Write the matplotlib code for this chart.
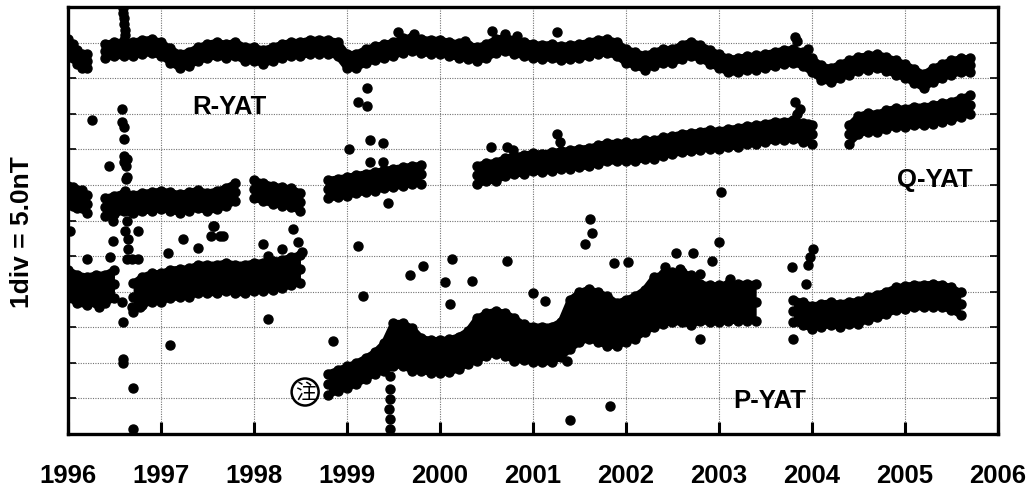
import numpy as np
import matplotlib
matplotlib.use('Agg')
import matplotlib.pyplot as plt

# values in nT (1 div = 5.0 nT), time in decimal years
# each band: start year, step, centre values, half-width of the daily scatter
r1_start, r1_step = 1996.0, 0.05
r1 = [54.5, 53.8, 53.0, 52.4, 52.4]
r2_start, r2_step = 1996.4, 0.1
r2 = [53.8, 54.1, 54.1, 54.1, 54.4, 54.5,
      54.1, 53.2, 52.4, 52.7, 53.4, 53.8, 54.1, 53.8, 54.1, 53.4,
      53.4, 53.0, 53.4, 53.8, 54.1, 54.1, 54.4, 54.4, 54.4, 54.1,
      52.4, 52.4, 53.1, 53.5, 53.8, 54.1, 54.6, 54.8, 54.5, 54.4,
      54.4, 54.1, 53.9, 53.7, 53.4, 53.8, 54.5, 54.8, 54.4, 54.1,
      53.8, 53.7, 53.8, 53.5, 53.7, 53.8, 54.1, 54.4, 54.5, 54.1,
      53.1, 52.7, 52.2, 52.7, 53.1, 53.1, 53.7, 54.1, 53.7, 53.0,
      52.4, 51.8, 51.8, 52.1, 52.2, 52.4, 52.7, 53.0, 53.1, 52.7,
      51.8, 50.8, 50.4, 51.0, 51.5, 52.0, 52.2, 52.4, 52.0, 51.5,
      51.0, 50.3, 49.6, 50.4, 51.0, 51.5, 51.8, 51.8]
r_spread = 1.0

q1_start, q1_step = 1996.0, 0.05
q1 = [33.6, 33.4, 33.0, 33.0, 32.3]
q2_start, q2_step = 1996.4, 0.1
q2 = [31.9, 32.2, 32.6, 32.3, 32.6, 32.7, 32.9, 32.7, 32.4, 32.7,
      33.0, 32.6, 32.9, 33.3, 34.0]
q3_start, q3_step = 1998.0, 0.1
q3 = [34.4, 34.0, 33.6, 33.4, 33.2, 32.6]
q4_start, q4_step = 1998.8, 0.1
q4 = [34.4, 34.6, 34.8, 35.1, 35.3, 35.5, 35.8, 36.0, 36.2, 36.4, 36.5]
q5_start, q5_step = 2000.4, 0.1
q5 = [36.4, 36.8, 36.9, 37.5, 37.8, 37.9,
      38.2, 38.1, 38.3, 38.5, 38.6, 38.8, 38.9, 39.3, 39.6, 39.6,
      39.7, 39.6, 40.0, 40.0, 40.4, 40.6, 40.9, 41.0, 41.2, 41.4,
      41.3, 41.6, 41.7, 42.0, 42.1, 42.3, 42.6, 42.6, 42.8, 42.4,
      42.1]
q6_start, q6_step = 2004.4, 0.1
q6 = [42.1, 43.4, 43.8, 43.7, 44.2, 44.5, 44.4, 44.7, 44.7, 44.9,
      45.2, 45.4, 45.9, 46.3]
q_spread = 1.3

p1_start, p1_step = 1996.0, 0.1
p1 = [21.1, 20.4, 20.1, 20.4, 20.4, 21.1]
p2_start, p2_step = 1996.7, 0.1
p2 = [19.2, 20.1, 20.6, 20.6, 21.1, 21.2, 21.3, 21.8, 21.8, 21.8,
      22.1, 21.8, 21.8, 22.1, 22.1, 22.3, 22.5, 22.9, 23.2]
p_old_spread = 2.0
p3_start, p3_step = 1998.8, 0.1
p3 = [7.0, 7.5,
      8.0, 8.5, 9.2, 10.0, 10.8, 12.6, 12.6, 11.9, 11.2, 10.9,
      10.9, 11.0, 11.4, 12.2, 13.3, 14.0, 14.3, 14.0, 13.3, 12.9,
      12.6, 12.6, 12.6, 13.3, 15.4, 16.4, 16.9, 16.4, 15.9, 15.4,
      15.9, 16.4, 17.3, 18.5, 19.0, 19.2, 19.2, 18.8, 18.5, 18.3,
      18.3, 18.5, 18.5, 18.5, 18.5]
p3_spread = [1.5] * 6 + [2.0] + [3.0] * 3 + [2.3] * 6 + [3.0] * 5 + \
            [2.5] * 5 + [3.5] * 5 + [3.0] * 4 + [3.5] * 5 + [2.6] * 7
p4_start, p4_step = 2003.8, 0.1
p4 = [17.3, 16.9, 16.4, 16.7, 16.9, 16.7, 17.0, 17.1, 17.6, 18.0,
      18.4, 19.0, 19.2, 19.4, 19.4, 19.5, 19.4, 19.0, 18.3]
p4_spread = 1.6

# single days off the bands
out_year = [1996.59, 1996.59, 1996.60, 1996.60, 1996.61, 1996.61, 1996.60,
            1996.58, 1996.58, 1996.60, 1996.60, 1996.60, 1996.60, 1996.62, 1996.63, 1996.62, 1996.63, 1996.61,
            1996.67, 1996.63, 1996.61, 1996.65, 1996.65, 1996.63, 1996.69, 1996.75, 1996.48, 1996.48, 1996.75,
            1996.58, 1996.59, 1996.69, 1996.77, 1996.33, 1996.59, 1996.59, 1996.70, 1996.70,
            1996.26, 1996.44, 1996.02, 1996.20, 1996.45,
            1997.08, 1997.24, 1997.40, 1997.56, 1997.57, 1997.63, 1997.67, 1997.54, 1997.10, 1998.15,
            1998.42, 1998.47, 1998.52, 1998.10, 1998.15, 1998.30,
            1999.22, 1999.12, 1999.22, 1999.25, 1999.39, 1999.02, 1999.44,
            1999.12, 1999.17, 1998.85,
            1999.46, 1999.46, 1999.46, 1999.45, 1999.46, 1999.46,
            2000.13, 1999.82, 1999.68, 2000.05, 2000.11, 2000.34, 2000.72, 2001.00, 2001.13,
            1999.55, 1999.72, 2000.27, 2001.26, 2000.56, 2000.70, 2000.83, 2003.82, 2003.84, 2003.96,
            2003.82, 2003.87, 2003.84, 2003.96,
            1999.25, 1999.39, 2000.55, 2000.72, 2000.78, 2001.26, 2001.29,
            2001.61, 2001.63, 2001.56, 2001.87, 2002.02, 2003.02, 2003.00, 2002.54, 2002.72,
            2001.83, 2001.40, 2002.80, 2001.37, 2003.78,
            2002.42, 2002.58, 2002.80, 2002.92, 2003.12, 2003.10,
            2003.80, 2004.01, 2003.98, 2003.96, 2003.94]
out_val = [59.9, 59.2, 58.4, 57.6, 56.8, 56.0, 55.3,
           45.6, 43.8, 43.1, 41.4, 39.0, 38.2, 35.8, 38.6, 37.6, 36.1, 34.1,
           31.3, 29.9, 28.5, 27.4, 26.0, 24.6, 24.6, 24.6, 29.9, 27.1, 28.5,
           18.5, 15.7, 17.8, 17.8, 17.8, 10.5, 10.0, 6.5, 0.7,
           44.1, 37.6, 28.5, 24.6, 24.9,
           25.4, 27.4, 26.1, 29.2, 29.2, 27.8, 27.8, 27.8, 12.5, 16.2,
           28.8, 27.0, 25.6, 26.7, 25.0, 26.0,
           48.6, 46.6, 46.1, 41.3, 40.9, 40.0, 32.4,
           26.4, 19.4, 13.1,
           8.1, 6.3, 4.9, 3.5, 2.1, 0.7,
           24.6, 23.6, 22.3, 21.3, 18.3, 21.5, 24.3, 19.8, 18.7,
           56.5, 56.2, 55.2, 56.5, 56.6, 56.2, 55.9, 55.8, 55.2, 54.1,
           46.6, 45.6, 44.9, 43.5,
           38.2, 38.2, 40.3, 40.3, 39.9, 42.1, 41.0,
           30.2, 28.2, 26.7, 24.0, 24.2, 34.0, 27.0, 25.4, 25.4,
           3.9, 2.0, 13.3, 10.3, 23.5,
           23.5, 23.2, 22.5, 24.3, 21.8, 20.4,
           13.3, 26.0, 24.9, 23.8, 21.1]

years = list(range(1996, 2007))

plt.rcParams['font.family'] = ['Liberation Sans', 'DejaVu Sans']

fig = plt.figure(figsize=(10.33, 4.89), dpi=100)
ax = fig.add_axes([0.0658, 0.1104, 0.9003, 0.8732])

MS = 6.5


def band(start, step, vals, spread):
    v = np.array(vals, dtype=float)
    t = start + step * np.arange(len(v))
    s = np.broadcast_to(np.array(spread, dtype=float), v.shape)
    ax.fill_between(t, v - s, v + s, color='k', lw=0, zorder=3)
    for y in (v - s, v + s):
        ax.plot(t, y, '-', color='k', lw=4.5, solid_capstyle='round',
                solid_joinstyle='round', zorder=3)
        ax.plot(t, y, 'o', color='k', ms=MS, zorder=3)
    ax.plot(t, v, 'o', color='k', ms=MS, zorder=3)


band(r1_start, r1_step, r1, r_spread)
band(r2_start, r2_step, r2, r_spread)
band(q1_start, q1_step, q1, q_spread)
band(q2_start, q2_step, q2, q_spread)
band(q3_start, q3_step, q3, q_spread)
band(q4_start, q4_step, q4, q_spread)
band(q5_start, q5_step, q5, q_spread)
band(q6_start, q6_step, q6, q_spread)
band(p1_start, p1_step, p1, p_old_spread)
band(p2_start, p2_step, p2, p_old_spread)
band(p3_start, p3_step, p3, p3_spread)
band(p4_start, p4_step, p4, p4_spread)
ax.plot(out_year, out_val, 'o', color='k', ms=MS, zorder=3)

ax.set_xlim(1996, 2006)
ax.set_ylim(0, 60)
ax.set_xticks(years)
ax.set_xticklabels([str(y) for y in years], fontsize=18.5, fontweight='bold')
ax.set_yticks(np.arange(0, 61, 5))
ax.set_yticklabels([])
ax.grid(True, ls=(0, (1, 1.2)), color='0.45', lw=0.8, zorder=0)
ax.tick_params(axis='x', direction='in', length=9, width=2.2, pad=21)
ax.tick_params(axis='y', direction='in', length=6, width=1.2, left=True, right=True)
for sp in ax.spines.values():
    sp.set_linewidth(2.4)

ax.text(1997.74, 46.1, 'R-YAT', fontsize=18.5, fontweight='bold', ha='center', va='center')
ax.text(2005.32, 35.8, 'Q-YAT', fontsize=18.5, fontweight='bold', ha='center', va='center')
ax.text(2003.55, 4.8, 'P-YAT', fontsize=18.5, fontweight='bold', ha='center', va='center')
ax.text(1998.55, 5.9, '注', fontsize=15, ha='center', va='center',
        family=['Noto Sans CJK JP', 'DejaVu Sans'],
        bbox=dict(boxstyle='circle,pad=0.12', fc='white', ec='k', lw=1.8), zorder=5)

fig.text(0.021, 0.525, '1div = 5.0nT', rotation=90, fontsize=19, fontweight='bold',
         ha='center', va='center')

fig.savefig('out.png', dpi=100)
